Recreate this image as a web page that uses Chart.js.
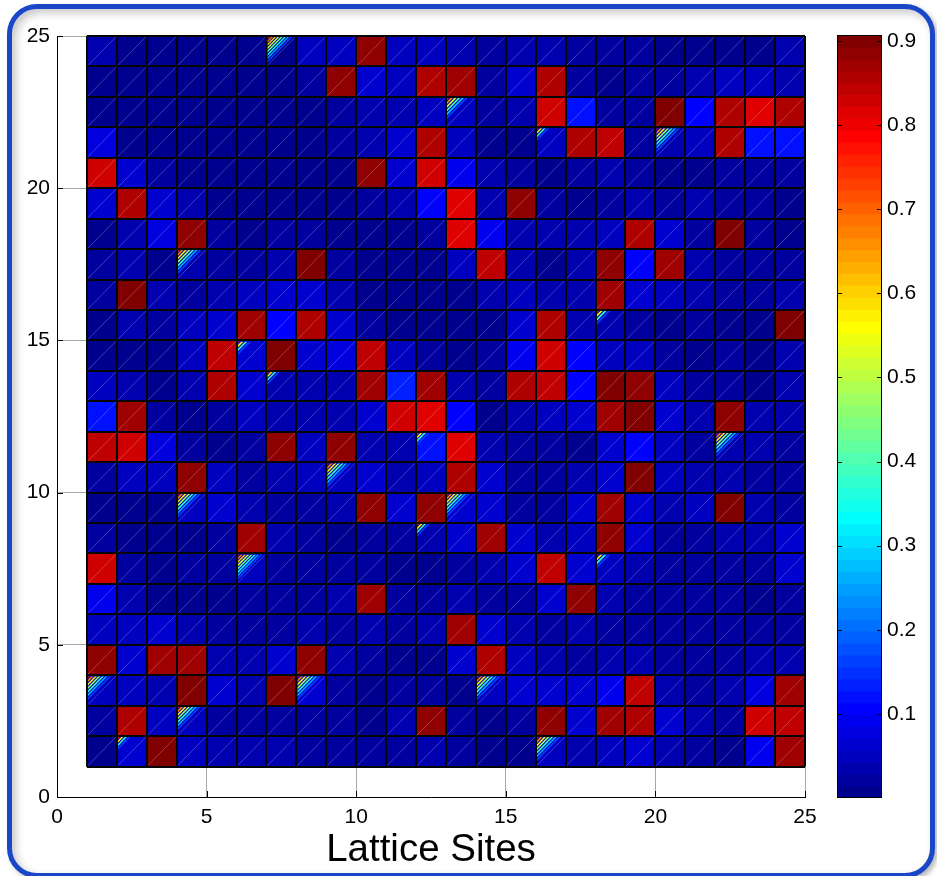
<!DOCTYPE html>
<html>
<head>
<meta charset="utf-8">
<script src="https://cdn.jsdelivr.net/npm/chart.js@4.4.1/dist/chart.umd.min.js"></script>
<style>
  html, body { margin: 0; padding: 0; background: #fff; width: 937px; height: 876px; overflow: hidden; }
  #frame {
    position: absolute; left: 7px; top: 4px; width: 918px; height: 864px;
    border: 5px solid #1a46c8; border-radius: 30px; background: #fff;
    box-shadow: inset 4px 4px 9px rgba(0,0,0,0.22), 3px 3px 5px rgba(0,0,0,0.28);
  }
  #lattice { position: absolute; left: 0; top: 0; }
  #colorbar { position: absolute; left: 820px; top: 0; }
</style>
</head>
<body>
<div id="frame"></div>
<canvas id="lattice" width="937" height="876"></canvas>
<canvas id="colorbar" width="117" height="876"></canvas>
<script>
const FONT = 'Arial, "Liberation Sans", Helvetica, sans-serif';

// Axis ticks (both axes) and colorbar ticks
const axisTicks = [0, 5, 10, 15, 20, 25];
const colorbarTicks = [0.1, 0.2, 0.3, 0.4, 0.5, 0.6, 0.7, 0.8, 0.9];
const colorMin = 0;
const colorMax = 0.907;
const latticeSize = 24;

// Site values, one row per lattice row, from the top row (y 24..25) down to y 1..2;
// each row runs x = 1..24
const cellValues = [
  [0.035,0.010,0.010,0.010,0.010,0.010,0.010,0.049,0.049,0.886,0.049,0.049, 0.035,0.021,0.035,0.035,0.021,0.021,0.021,0.010,0.010,0.010,0.010,0.035],
  [0.010,0.010,0.010,0.010,0.010,0.010,0.010,0.021,0.886,0.060,0.049,0.861, 0.874,0.021,0.060,0.857,0.021,0.010,0.021,0.021,0.035,0.049,0.049,0.035],
  [0.010,0.010,0.010,0.010,0.010,0.010,0.010,0.010,0.021,0.035,0.035,0.049, 0.049,0.021,0.035,0.826,0.118,0.021,0.021,0.900,0.100,0.857,0.815,0.861],
  [0.075,0.010,0.010,0.010,0.010,0.010,0.010,0.010,0.021,0.035,0.060,0.857, 0.049,0.010,0.006,0.049,0.861,0.843,0.021,0.035,0.049,0.857,0.124,0.124],
  [0.834,0.070,0.021,0.010,0.010,0.010,0.010,0.010,0.010,0.886,0.060,0.826, 0.088,0.035,0.021,0.010,0.021,0.035,0.021,0.010,0.010,0.021,0.021,0.021],
  [0.070,0.861,0.070,0.035,0.010,0.010,0.010,0.010,0.010,0.021,0.035,0.100, 0.815,0.035,0.886,0.021,0.010,0.021,0.035,0.021,0.035,0.021,0.021,0.010],
  [0.010,0.035,0.075,0.886,0.021,0.010,0.021,0.021,0.010,0.010,0.006,0.021, 0.815,0.088,0.035,0.035,0.035,0.049,0.857,0.060,0.021,0.900,0.021,0.010],
  [0.021,0.035,0.010,0.035,0.021,0.021,0.035,0.900,0.021,0.010,0.006,0.010, 0.049,0.843,0.035,0.010,0.035,0.881,0.100,0.870,0.035,0.021,0.021,0.021],
  [0.021,0.905,0.035,0.021,0.035,0.049,0.060,0.070,0.035,0.010,0.006,0.010, 0.010,0.035,0.049,0.035,0.035,0.870,0.060,0.049,0.035,0.021,0.021,0.035],
  [0.010,0.035,0.021,0.049,0.060,0.870,0.108,0.861,0.060,0.021,0.010,0.010, 0.010,0.010,0.060,0.857,0.035,0.035,0.021,0.010,0.021,0.010,0.010,0.894],
  [0.010,0.010,0.006,0.049,0.843,0.060,0.905,0.060,0.075,0.843,0.049,0.021, 0.010,0.021,0.088,0.832,0.100,0.049,0.049,0.021,0.010,0.021,0.010,0.035],
  [0.049,0.035,0.010,0.035,0.861,0.060,0.035,0.035,0.035,0.874,0.135,0.870, 0.035,0.021,0.857,0.845,0.108,0.894,0.886,0.049,0.021,0.021,0.010,0.035],
  [0.124,0.874,0.021,0.010,0.021,0.049,0.035,0.035,0.035,0.060,0.832,0.815, 0.108,0.010,0.035,0.049,0.060,0.870,0.894,0.060,0.035,0.886,0.035,0.035],
  [0.843,0.826,0.075,0.021,0.010,0.021,0.881,0.049,0.886,0.035,0.035,0.118, 0.818,0.035,0.021,0.021,0.010,0.060,0.100,0.049,0.021,0.035,0.035,0.021],
  [0.021,0.049,0.049,0.886,0.049,0.021,0.035,0.049,0.049,0.060,0.035,0.049, 0.857,0.060,0.021,0.021,0.035,0.060,0.894,0.049,0.035,0.035,0.021,0.021],
  [0.010,0.010,0.010,0.049,0.070,0.035,0.021,0.021,0.035,0.886,0.060,0.881, 0.070,0.070,0.021,0.021,0.070,0.870,0.070,0.035,0.049,0.900,0.035,0.021],
  [0.021,0.010,0.010,0.010,0.021,0.874,0.035,0.021,0.010,0.021,0.021,0.035, 0.060,0.874,0.060,0.035,0.049,0.881,0.060,0.021,0.021,0.035,0.035,0.060],
  [0.826,0.021,0.010,0.021,0.021,0.049,0.021,0.021,0.021,0.021,0.010,0.010, 0.021,0.035,0.060,0.843,0.060,0.049,0.035,0.021,0.021,0.021,0.021,0.060],
  [0.088,0.035,0.010,0.010,0.010,0.021,0.021,0.021,0.035,0.874,0.021,0.021, 0.035,0.021,0.021,0.070,0.886,0.035,0.021,0.021,0.021,0.021,0.010,0.021],
  [0.049,0.049,0.060,0.035,0.021,0.021,0.021,0.035,0.021,0.035,0.021,0.035, 0.870,0.070,0.035,0.021,0.035,0.021,0.021,0.021,0.021,0.021,0.021,0.021],
  [0.881,0.060,0.874,0.870,0.035,0.035,0.060,0.886,0.035,0.021,0.010,0.010, 0.070,0.857,0.049,0.035,0.021,0.035,0.035,0.021,0.021,0.021,0.035,0.035],
  [0.049,0.049,0.035,0.900,0.060,0.035,0.898,0.060,0.021,0.010,0.021,0.021, 0.010,0.049,0.060,0.060,0.060,0.088,0.843,0.035,0.021,0.035,0.075,0.870],
  [0.021,0.861,0.049,0.049,0.021,0.021,0.021,0.021,0.021,0.010,0.035,0.886, 0.021,0.010,0.021,0.886,0.060,0.870,0.861,0.060,0.035,0.021,0.834,0.843],
  [0.010,0.060,0.894,0.049,0.035,0.035,0.035,0.021,0.021,0.021,0.021,0.035, 0.021,0.010,0.010,0.049,0.035,0.049,0.060,0.035,0.021,0.010,0.088,0.870]
];

// Interpolation streaks in the upper-left corner of some sites: [site x, site y, extent]
const streakCells = [
  [7,24,0.95], [13,22,0.8], [16,21,0.5], [20,21,0.9], [4,17,0.9], [18,15,0.55],
  [6,14,0.55], [7,13,0.5], [12,11,0.5], [22,11,0.9], [9,10,0.9], [4,9,0.9],
  [13,9,0.88], [12,8,0.5], [6,7,0.95], [18,7,0.55], [1,3,0.88], [8,3,0.9],
  [14,3,0.9], [4,2,0.88], [2,1,0.5], [16,1,0.9]
];

// 64-level jet colormap
const JET_LEVELS = 64;
function jetLevel(j) {
  const u = k => (k <= 16 ? k / 16 : (k <= 31 ? 1 : (48 - k) / 16));
  const r = j >= 25 ? u(j - 24) : 0;
  const g = (j >= 9 && j <= 55) ? u(j - 8) : 0;
  const b = j <= 39 ? u(j + 8) : 0;
  return 'rgb(' + Math.round(r * 255) + ',' + Math.round(g * 255) + ',' + Math.round(b * 255) + ')';
}
function jetColor(v) {
  let j = Math.floor((v - colorMin) / (colorMax - colorMin) * JET_LEVELS) + 1;
  j = Math.max(1, Math.min(JET_LEVELS, j));
  return jetLevel(j);
}

// One floating bar per lattice site
const cellPoints = [];
const cellColors = [];
cellValues.forEach((row, r) => {
  const yLow = latticeSize - r;
  row.forEach((v, c) => {
    cellPoints.push({ x: c + 1.5, y: [yLow, yLow + 1] });
    cellColors.push(jetColor(v));
  });
});

const streakPlugin = {
  id: 'cellStreaks',
  afterDatasetsDraw(chart) {
    const { ctx, scales: { x, y } } = chart;
    streakCells.forEach(([sx, sy, ext]) => {
      const L = x.getPixelForValue(sx) + 1;
      const T = y.getPixelForValue(sy + 1) + 1;
      const w = (x.getPixelForValue(sx + 1) - 1 - L) * ext;
      const h = (y.getPixelForValue(sy) - 1 - T) * ext;
      const n = Math.max(3, Math.round(ext * 8));
      ctx.save();
      ctx.beginPath();
      ctx.moveTo(L, T); ctx.lineTo(L + w, T); ctx.lineTo(L, T + h); ctx.closePath();
      ctx.clip();
      for (let k = 0; k < n; k++) {
        const d0 = k / n, d1 = (k + 0.6) / n;
        const t = 0.86 - 0.68 * k / Math.max(1, n - 1);
        ctx.fillStyle = jetColor(colorMin + t * (colorMax - colorMin));
        ctx.beginPath();
        ctx.moveTo(L + d0 * w, T); ctx.lineTo(L + d1 * w, T);
        ctx.lineTo(L, T + d1 * h); ctx.lineTo(L, T + d0 * h);
        ctx.closePath();
        ctx.fill();
      }
      ctx.restore();
    });
  }
};

const diagonalPlugin = {
  id: 'cellDiagonals',
  afterDatasetsDraw(chart) {
    const { ctx } = chart;
    const meta = chart.getDatasetMeta(0);
    ctx.save();
    ctx.strokeStyle = 'rgba(255,255,255,0.30)';
    ctx.lineWidth = 0.8;
    meta.data.forEach(bar => {
      const { x, y, base, width } = bar.getProps(['x', 'y', 'base', 'width'], true);
      const l = x - width / 2, r = x + width / 2;
      const top = Math.min(y, base), bot = Math.max(y, base);
      ctx.beginPath();
      ctx.moveTo(l + 1, bot - 1);
      ctx.lineTo(r - 1, top + 1);
      ctx.stroke();
    });
    ctx.restore();
  }
};

// Black edges between lattice sites
const siteEdgePlugin = {
  id: 'siteEdges',
  afterDatasetsDraw(chart) {
    const { ctx, scales: { x, y } } = chart;
    const x0 = x.getPixelForValue(1), x1 = x.getPixelForValue(latticeSize + 1);
    const y0 = y.getPixelForValue(1), y1 = y.getPixelForValue(latticeSize + 1);
    ctx.save();
    ctx.strokeStyle = '#050505';
    ctx.lineWidth = 2;
    for (let v = 1; v <= latticeSize + 1; v++) {
      const px = Math.round(x.getPixelForValue(v));
      ctx.beginPath(); ctx.moveTo(px, y1); ctx.lineTo(px, y0); ctx.stroke();
      const py = Math.round(y.getPixelForValue(v));
      ctx.beginPath(); ctx.moveTo(x0, py); ctx.lineTo(x1, py); ctx.stroke();
    }
    ctx.restore();
  }
};

const innerTickPlugin = {
  id: 'innerTicks',
  afterDraw(chart) {
    const { ctx, chartArea: a, scales: { x, y } } = chart;
    ctx.save();
    ctx.strokeStyle = '#000';
    ctx.lineWidth = 1;
    axisTicks.forEach(v => {
      const px = Math.round(x.getPixelForValue(v)) + 0.5;
      ctx.beginPath(); ctx.moveTo(px, a.bottom); ctx.lineTo(px, a.bottom - 6); ctx.stroke();
      const py = Math.round(y.getPixelForValue(v)) + 0.5;
      ctx.beginPath(); ctx.moveTo(a.left, py); ctx.lineTo(a.left + 6, py); ctx.stroke();
    });
    ctx.restore();
  }
};

const tickFont = { family: FONT, size: 21 };

new Chart(document.getElementById('lattice'), {
  type: 'bar',
  data: {
    datasets: [{
      data: cellPoints,
      backgroundColor: cellColors,
      borderWidth: 0,
      inflateAmount: 0.5,
      barPercentage: 1,
      categoryPercentage: 1
    }]
  },
  options: {
    responsive: false,
    animation: false,
    devicePixelRatio: 1,
    layout: { padding: { left: 0, top: 36, right: 132, bottom: 0 } },
    plugins: { legend: { display: false }, tooltip: { enabled: false } },
    scales: {
      x: {
        type: 'linear', min: 0, max: 25, offset: false,
        afterBuildTicks: s => { s.ticks = axisTicks.map(v => ({ value: v })); },
        afterFit: s => { s.height = 79; },
        ticks: { font: tickFont, color: '#000', padding: 8, maxRotation: 0, autoSkip: false },
        grid: { color: '#a8a8a8', lineWidth: 1, drawTicks: false, offset: false },
        border: { color: '#000', width: 1 },
        title: { display: true, text: 'Lattice Sites', color: '#000',
                 font: { family: FONT, size: 38.5 }, padding: { top: 0, bottom: 3 } }
      },
      y: {
        type: 'linear', min: 0, max: 25,
        afterBuildTicks: s => { s.ticks = axisTicks.map(v => ({ value: v })); },
        afterFit: s => { s.width = 57; },
        ticks: { font: tickFont, color: '#000', padding: 7, autoSkip: false },
        grid: { color: '#a8a8a8', lineWidth: 1, drawTicks: false },
        border: { color: '#000', width: 1 }
      }
    }
  },
  plugins: [streakPlugin, diagonalPlugin, siteEdgePlugin, innerTickPlugin]
});

// Colorbar: one band per colormap level
const bandStep = (colorMax - colorMin) / JET_LEVELS;
const bandPoints = [];
const bandColors = [];
for (let j = 1; j <= JET_LEVELS; j++) {
  bandPoints.push({ x: 'cb', y: [colorMin + (j - 1) * bandStep, colorMin + j * bandStep] });
  bandColors.push(jetLevel(j));
}

const colorbarFramePlugin = {
  id: 'colorbarFrame',
  afterDatasetsDraw(chart) {
    const { ctx, chartArea: a, scales: { y } } = chart;
    ctx.save();
    ctx.strokeStyle = '#000';
    ctx.lineWidth = 1;
    ctx.strokeRect(Math.round(a.left) + 0.5, Math.round(a.top) + 0.5,
                   Math.round(a.right - a.left) - 1, Math.round(a.bottom - a.top) - 1);
    colorbarTicks.forEach(v => {
      const py = Math.round(y.getPixelForValue(v)) + 0.5;
      ctx.beginPath(); ctx.moveTo(a.left, py); ctx.lineTo(a.left + 5, py); ctx.stroke();
      ctx.beginPath(); ctx.moveTo(a.right, py); ctx.lineTo(a.right - 5, py); ctx.stroke();
    });
    ctx.restore();
  }
};

new Chart(document.getElementById('colorbar'), {
  type: 'bar',
  data: {
    labels: ['cb'],
    datasets: [{
      data: bandPoints,
      backgroundColor: bandColors,
      borderWidth: 0,
      inflateAmount: 0.5,
      barPercentage: 1,
      categoryPercentage: 1
    }]
  },
  options: {
    responsive: false,
    animation: false,
    devicePixelRatio: 1,
    layout: { padding: { left: 17, top: 35, right: 0, bottom: 78 } },
    plugins: { legend: { display: false }, tooltip: { enabled: false } },
    scales: {
      x: { type: 'category', display: false, offset: true },
      y: {
        type: 'linear', position: 'right', min: colorMin, max: colorMax,
        afterBuildTicks: s => { s.ticks = colorbarTicks.map(v => ({ value: v })); },
        afterFit: s => { s.width = 55; },
        ticks: { font: tickFont, color: '#000', padding: 5, autoSkip: false,
                 callback: v => v.toFixed(1) },
        grid: { display: false, drawTicks: false },
        border: { display: false }
      }
    }
  },
  plugins: [colorbarFramePlugin]
});
</script>
</body>
</html>
